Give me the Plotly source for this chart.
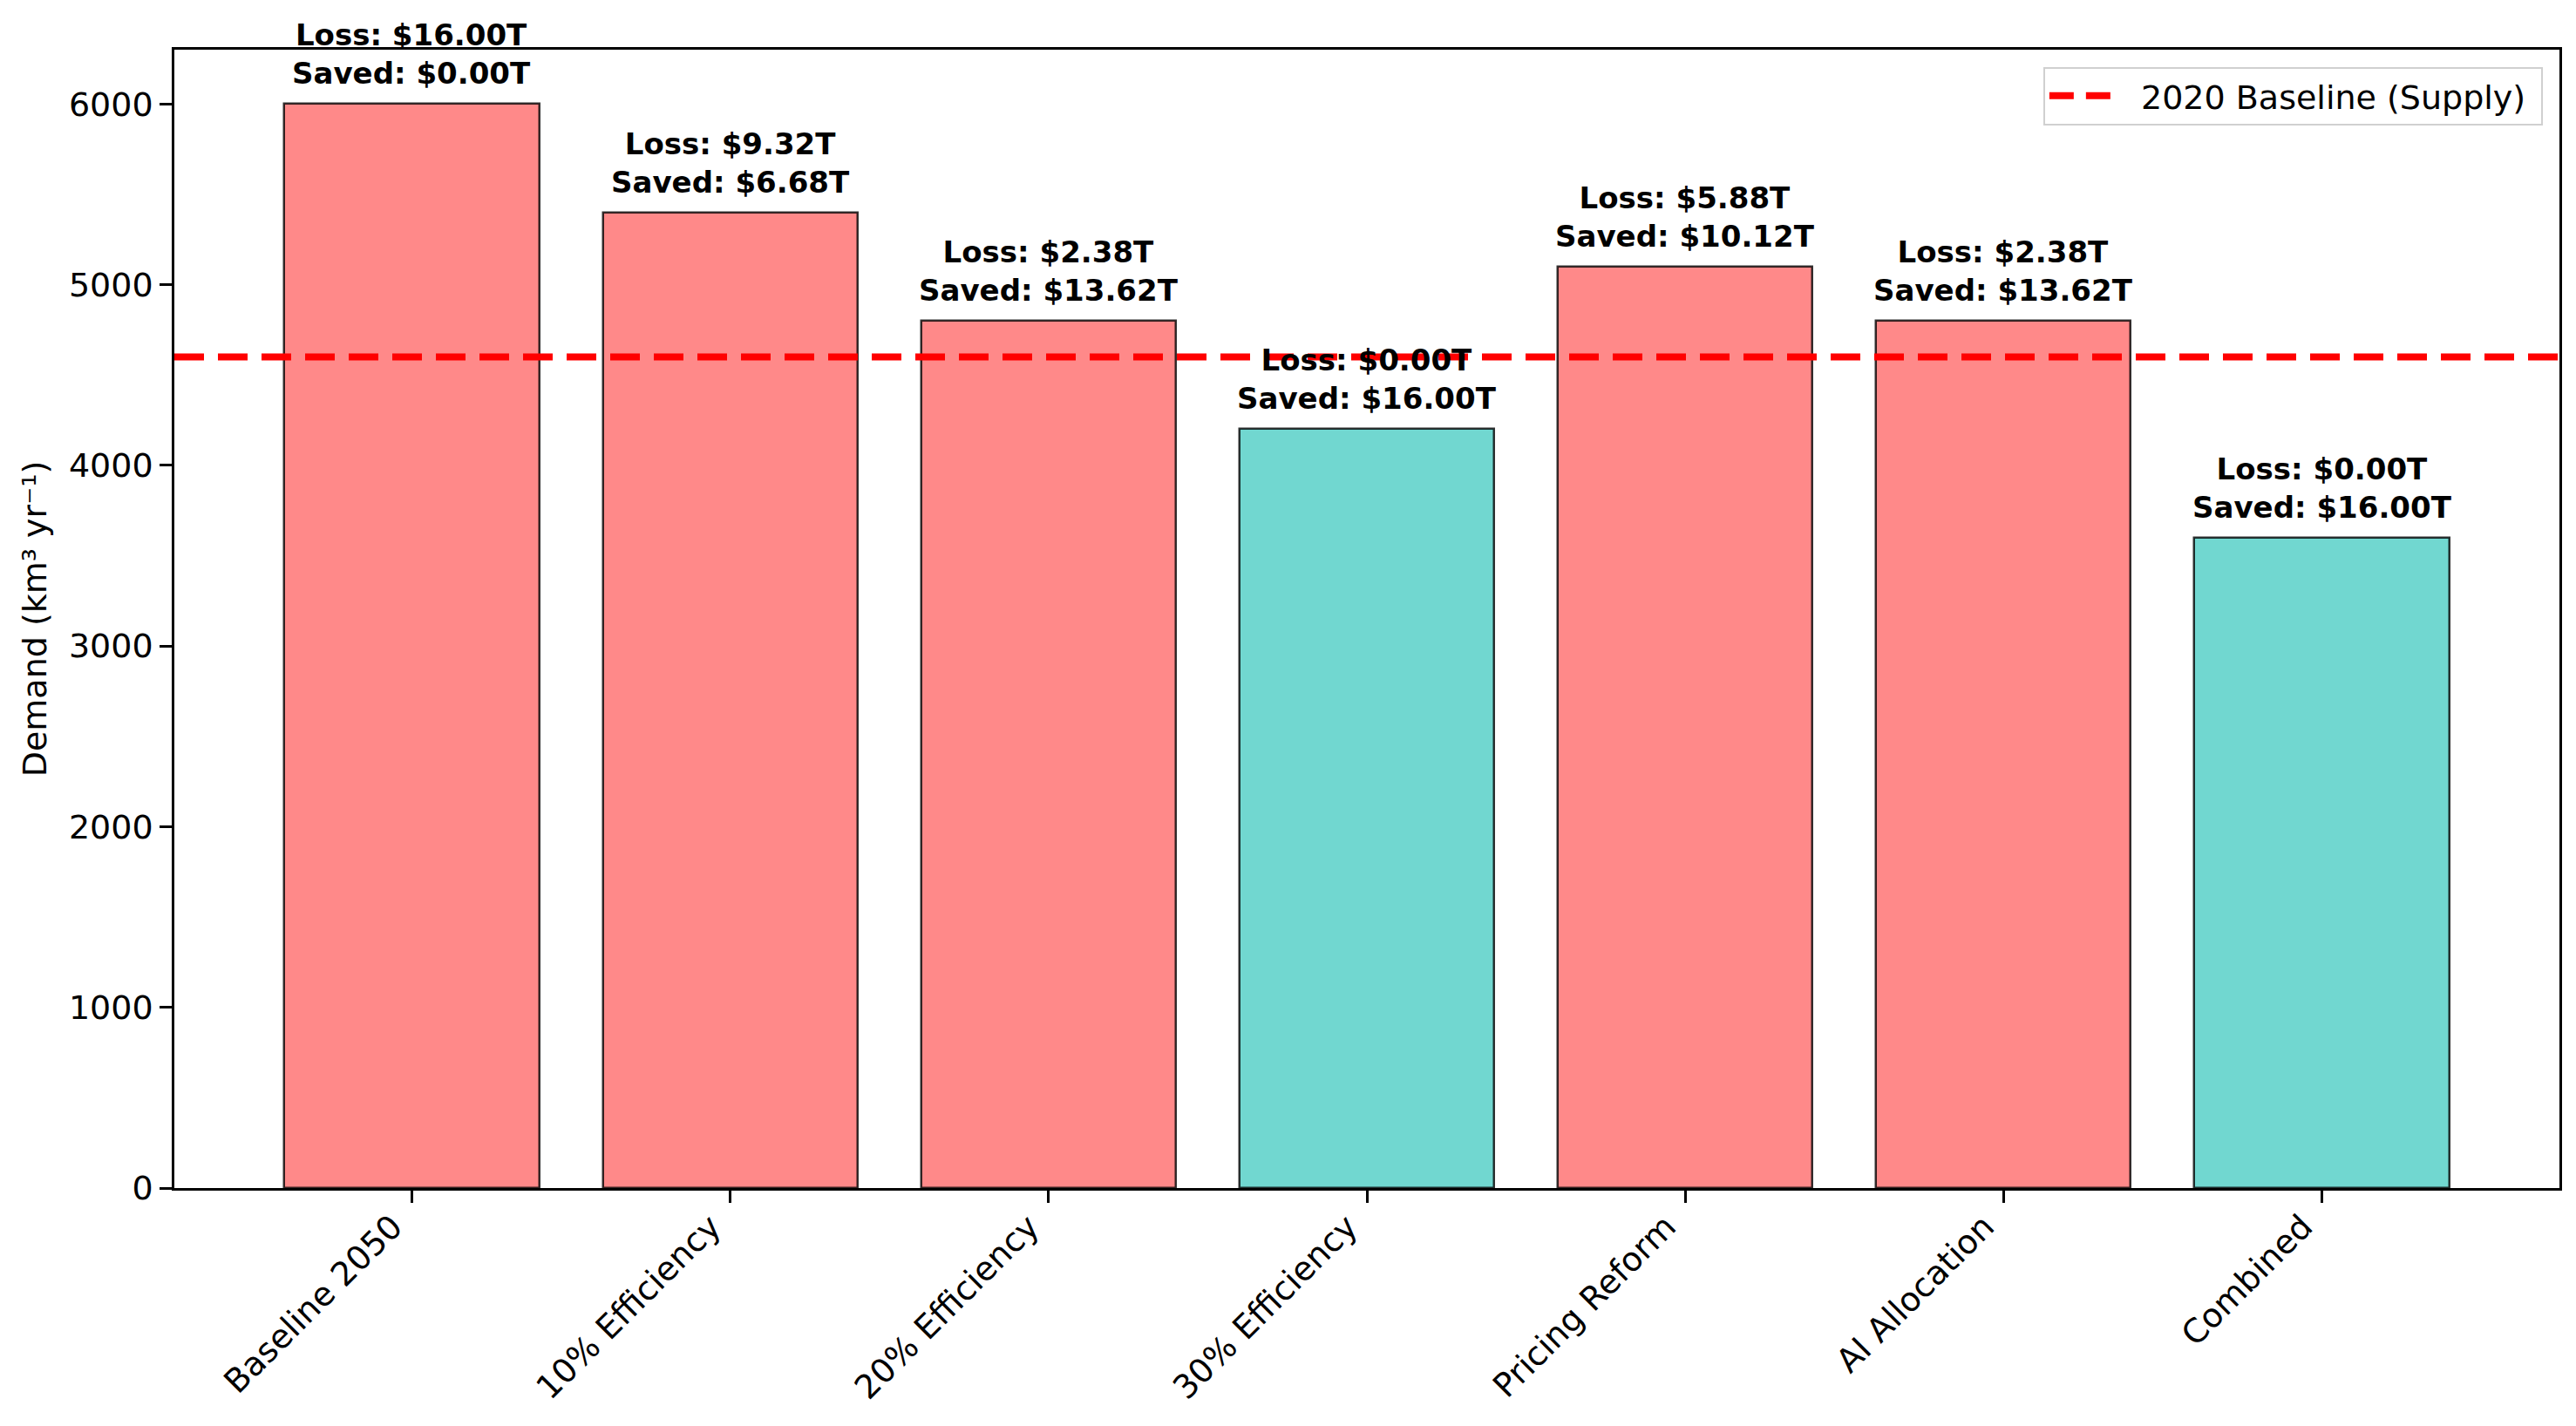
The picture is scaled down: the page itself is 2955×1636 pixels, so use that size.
import plotly.graph_objects as go

# 數據
scenarios = ['Baseline 2050', '10% Efficiency', '20% Efficiency', '30% Efficiency',
             'Pricing Reform', 'AI Allocation', 'Combined']
demand = [6000, 5400, 4800, 4200, 5100, 4800, 3600]
loss_t = [16.00, 9.32, 2.38, 0.00, 5.88, 2.38, 0.00]
saved_t = [0.00, 6.68, 13.62, 16.00, 10.12, 13.62, 16.00]
supply_2020 = 4600

FONT = 'DejaVu Sans'
RED = 'rgba(255,107,107,0.8)'
TEAL = 'rgba(78,205,196,0.8)'
NBSP = '\u00a0'

x_pos = list(range(len(scenarios)))
colors = [TEAL if d <= supply_2020 else RED for d in demand]

fig = go.Figure()

fig.add_trace(go.Bar(
    x=x_pos, y=demand, width=0.8,
    marker=dict(color=colors, line=dict(color='rgba(0,0,0,0.8)', width=2.5)),
    showlegend=False, hoverinfo='x+y'
))

# 圖例用的虛線（實際線條由 shape 繪製）
fig.add_trace(go.Scatter(
    x=[None], y=[None], mode='lines',
    name=NBSP * 2 + '2020 Baseline (Supply)' + NBSP,
    line=dict(color='red', width=8, dash='28px,14px')
))

fig.add_shape(type='line', xref='x domain', yref='y', x0=0, x1=1,
              y0=supply_2020, y1=supply_2020, layer='above',
              line=dict(color='red', width=8, dash='34px,16px'))

# 標註 Loss / Saved
for xi, d, lo, sv in zip(x_pos, demand, loss_t, saved_t):
    fig.add_annotation(
        x=xi, y=d, xref='x', yref='y',
        text=f'Loss: ${lo:.2f}T<br>Saved: ${sv:.2f}T',
        showarrow=False, yanchor='bottom', yshift=13,
        font=dict(family=FONT, size=34, color='black', weight='bold')
    )

fig.update_layout(
    width=2955, height=1636, autosize=False,
    margin=dict(l=192, r=27, t=49, b=281, pad=0),
    plot_bgcolor='white', paper_bgcolor='white',
    font=dict(family=FONT, size=38, color='black'),
    bargap=0,
    legend=dict(
        x=0.993, y=0.985, xanchor='right', yanchor='top',
        bgcolor='rgba(255,255,255,0.8)', bordercolor='#d0d0d0', borderwidth=2,
        font=dict(family=FONT, size=38), itemwidth=76
    ),
    showlegend=True
)

fig.update_xaxes(
    range=[-0.746, 6.746], tickmode='array', tickvals=x_pos, ticktext=scenarios,
    tickangle=-45, ticks='outside', ticklen=14, tickwidth=2.5, tickcolor='black',
    ticklabelshift=-22, ticklabelstandoff=-10,
    showline=True, linecolor='black', linewidth=2.5, mirror=True,
    showgrid=False, zeroline=False, tickfont=dict(size=38)
)
fig.update_yaxes(
    range=[0, 6300], tickvals=[0, 1000, 2000, 3000, 4000, 5000, 6000],
    ticks='outside', ticklen=14, tickwidth=2.5, tickcolor='black',
    showline=True, linecolor='black', linewidth=2.5, mirror=True,
    showgrid=False, zeroline=False, tickfont=dict(size=38),
    title=dict(text='Demand (km³ yr⁻¹)', font=dict(size=38), standoff=14)
)

fig.write_html('out.html')
